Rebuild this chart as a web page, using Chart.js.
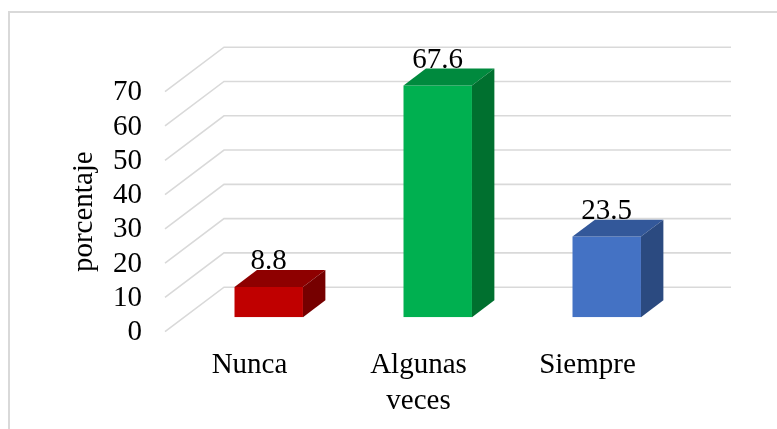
<!DOCTYPE html>
<html><head><meta charset="utf-8">
<script src="https://cdn.jsdelivr.net/npm/chart.js@4.4.0/dist/chart.umd.min.js"></script>
<style>html,body{margin:0;padding:0;background:#fff}canvas{display:block}</style>
</head><body>
<canvas id="c" width="777" height="429"></canvas>
<script>
// ---- data ----
const categories = ['Nunca', ['Algunas', 'veces'], 'Siempre'];
const values = [8.8, 67.6, 23.5];
const yTickValues = [0, 10, 20, 30, 40, 50, 60, 70];
const yAxisTitle = 'porcentaje';

// ---- styles ----
const frontColors = ['#C00000', '#00B050', '#4472C4'];
const topColors = ['#8E0000', '#008A3E', '#33589A'];
const sideColors = ['#760000', '#00702F', '#2B4A80'];
const FONT = '"Liberation Serif", "Times New Roman", serif';
const FS = 29;
const WALL = {dx: 59, dy: -44.5};   // full depth of the 3D box
const FRONT_Z = 0.326, DEPTH_Z = 0.38;

const threeD = {
  id: 'threeD',
  beforeDraw(chart) {
    const ctx = chart.ctx;
    ctx.save();
    ctx.strokeStyle = '#d9d9d9';
    ctx.lineWidth = 2;
    ctx.strokeRect(9, 12, 900, 600);
    ctx.restore();
  },
  beforeDatasetsDraw(chart) {
    const {ctx, chartArea: a, scales: {y}} = chart;
    ctx.save();
    ctx.strokeStyle = '#d9d9d9';
    ctx.lineWidth = 1.6;
    y.ticks.forEach(t => {
      const py = y.getPixelForValue(t.value);
      ctx.beginPath();
      ctx.moveTo(a.left, py);
      ctx.lineTo(a.left + WALL.dx, py + WALL.dy);
      ctx.lineTo(a.right + WALL.dx, py + WALL.dy);
      ctx.stroke();
    });
    ctx.restore();
    ctx.save();
    ctx.translate(WALL.dx * FRONT_Z, WALL.dy * FRONT_Z);
  },
  afterDatasetsDraw(chart) {
    const ctx = chart.ctx;
    const meta = chart.getDatasetMeta(0);
    const dx = WALL.dx * DEPTH_Z, dy = WALL.dy * DEPTH_Z;
    meta.data.forEach((bar, i) => {
      const {x, y, base, width} = bar.getProps(['x', 'y', 'base', 'width'], true);
      const L = x - width / 2, R = x + width / 2;
      ctx.fillStyle = topColors[i];
      ctx.beginPath();
      ctx.moveTo(L, y); ctx.lineTo(R, y); ctx.lineTo(R + dx, y + dy); ctx.lineTo(L + dx, y + dy);
      ctx.closePath(); ctx.fill();
      ctx.fillStyle = sideColors[i];
      ctx.beginPath();
      ctx.moveTo(R, y); ctx.lineTo(R + dx, y + dy); ctx.lineTo(R + dx, base + dy); ctx.lineTo(R, base);
      ctx.closePath(); ctx.fill();
    });
    meta.data.forEach((bar, i) => {
      const {x, y} = bar.getProps(['x', 'y'], true);
      ctx.fillStyle = '#000';
      ctx.font = FS + 'px ' + FONT;
      ctx.textAlign = 'center';
      ctx.textBaseline = 'alphabetic';
      ctx.fillText(values[i].toFixed(1), x, y + dy - 1);
    });
    ctx.restore();
  }
};

new Chart(document.getElementById('c'), {
  type: 'bar',
  data: {
    labels: categories,
    datasets: [{
      data: values,
      backgroundColor: frontColors,
      borderWidth: 0,
      barPercentage: 0.405,
      categoryPercentage: 1
    }]
  },
  options: {
    responsive: false,
    animation: false,
    devicePixelRatio: 1,
    layout: {padding: {left: 60, right: 105, top: 91.7, bottom: 0}},
    plugins: {legend: {display: false}, tooltip: {enabled: false}},
    scales: {
      x: {
        grid: {display: false, drawTicks: false},
        border: {display: false},
        ticks: {color: '#000', font: {family: FONT, size: FS, lineHeight: 1.26}, padding: 15, maxRotation: 0, autoSkip: false},
        afterFit(s) { s.height = 97.3; }
      },
      y: {
        min: 0, max: 70,
        grid: {display: false, drawTicks: false},
        border: {display: false},
        afterBuildTicks(s) { s.ticks = yTickValues.map(v => ({value: v})); },
        ticks: {color: '#000', font: {family: FONT, size: FS}, padding: 23, labelOffset: 1, autoSkip: false},
        title: {display: true, text: yAxisTitle, color: '#000', font: {family: FONT, size: FS}, padding: {top: 7, bottom: 0}},
        afterFit(s) { s.width = 105; }
      }
    }
  },
  plugins: [threeD]
});
</script>
</body></html>
